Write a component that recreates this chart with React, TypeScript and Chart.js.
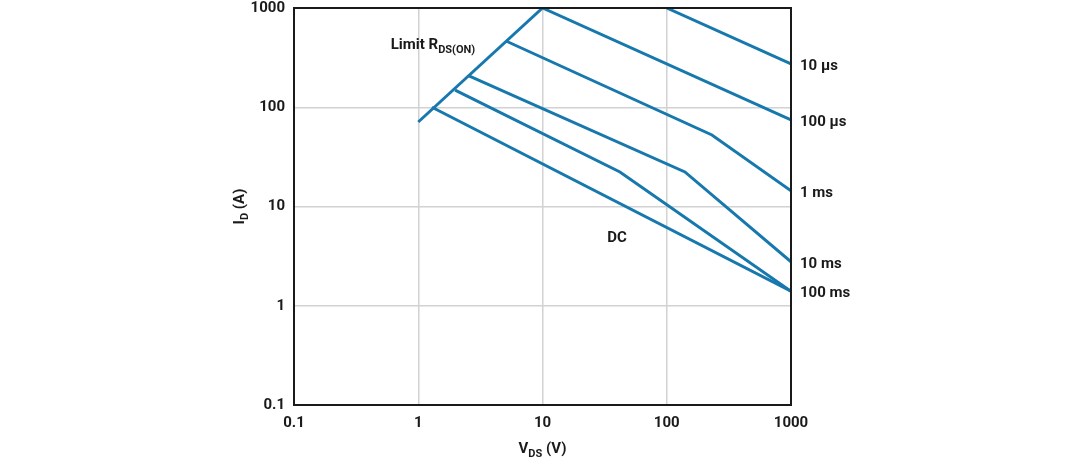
import React, { useEffect, useRef } from "react";
import { Chart, registerables } from "chart.js";
Chart.register(...registerables);

// Axis ticks (decades)
const xTicks = [0.1, 1, 10, 100, 1000];
const yTicks = [0.1, 1, 10, 100, 1000];

// Series (V_DS in V, I_D in A)
const limitV = [1, 10];
const limitI = [71, 1000];
const us10V = [100, 1000];
const us10I = [1000, 273];
const us100V = [10, 1000];
const us100I = [1000, 74.5];
const ms1V = [5.08, 231, 1000];
const ms1I = [465, 52.6, 14.4];
const ms10V = [2.56, 140, 1000];
const ms10I = [207, 22.3, 2.77];
const ms100V = [1.98, 42, 1000];
const ms100I = [149, 22.3, 1.4];
const dcV = [1.29, 1000];
const dcI = [100, 1.4];

// Right-side labels
const rightLabels = ["10 µs", "100 µs", "1 ms", "10 ms", "100 ms"];
const rightLabelI = [273, 74.5, 14.4, 2.77, 1.4];

// In-plot annotations
const limitLabelPos = { v: 0.6, i: 424 };
const dcLabelPos = { v: 39.8, i: 4.8 };

const BLUE = "#1778ae";
const FONT = "Roboto, 'Open Sans', sans-serif";

const zip = (xs: number[], ys: number[]) => xs.map((x, i) => ({ x, y: ys[i] }));

function drawSub(ctx: CanvasRenderingContext2D, x: number, y: number, main: string, sub: string, rest: string, size: number, align: "left" | "center") {
  ctx.save();
  ctx.textBaseline = "middle";
  const subSize = Math.round(size * 0.72);
  ctx.font = `bold ${size}px ${FONT}`;
  const wMain = ctx.measureText(main).width;
  ctx.font = `bold ${subSize}px ${FONT}`;
  const wSub = ctx.measureText(sub).width;
  ctx.font = `bold ${size}px ${FONT}`;
  const wRest = ctx.measureText(rest).width;
  const total = wMain + wSub + wRest;
  let sx = align === "center" ? x - total / 2 : x;
  ctx.textAlign = "left";
  ctx.fillText(main, sx, y);
  ctx.font = `bold ${subSize}px ${FONT}`;
  ctx.fillText(sub, sx + wMain, y + size * 0.35);
  ctx.font = `bold ${size}px ${FONT}`;
  ctx.fillText(rest, sx + wMain + wSub, y);
  ctx.restore();
}

const annotations = {
  id: "annotations",
  afterDraw(chart: any) {
    const { ctx, chartArea, scales } = chart;
    const xs = scales.x;
    const ys = scales.y;
    ctx.save();
    // frame
    ctx.strokeStyle = "#1a1a1a";
    ctx.lineWidth = 2;
    ctx.strokeRect(chartArea.left, chartArea.top, chartArea.right - chartArea.left, chartArea.bottom - chartArea.top);
    ctx.fillStyle = "#1a1a1a";
    // right labels
    ctx.font = `bold 15px ${FONT}`;
    ctx.textAlign = "left";
    ctx.textBaseline = "middle";
    rightLabels.forEach((t, i) => {
      ctx.fillText(t, chartArea.right + 9, ys.getPixelForValue(rightLabelI[i]) + 2);
    });
    // DC label
    ctx.textAlign = "center";
    ctx.fillText("DC", xs.getPixelForValue(dcLabelPos.v), ys.getPixelForValue(dcLabelPos.i));
    // Limit label
    drawSub(ctx, xs.getPixelForValue(limitLabelPos.v), ys.getPixelForValue(limitLabelPos.i), "Limit R", "DS(ON)", "", 15, "left");
    // x title
    const cx = (chartArea.left + chartArea.right) / 2;
    drawSub(ctx, cx, 449, "V", "DS", " (V)", 15, "center");
    // y title
    ctx.save();
    ctx.translate(240, (chartArea.top + chartArea.bottom) / 2);
    ctx.rotate(-Math.PI / 2);
    drawSub(ctx, 0, 0, "I", "D", " (A)", 15, "center");
    ctx.restore();
    ctx.restore();
  },
};

export default function App() {
  const ref = useRef<HTMLCanvasElement | null>(null);
  useEffect(() => {
    if (!ref.current) return;
    const mk = (xs: number[], ys: number[]) => ({
      data: zip(xs, ys),
      borderColor: BLUE,
      borderWidth: 3,
      pointRadius: 0,
      fill: false,
      tension: 0,
    });
    const chart = new Chart(ref.current, {
      type: "line",
      data: {
        datasets: [
          mk(limitV, limitI),
          mk(us10V, us10I),
          mk(us100V, us100I),
          mk(ms1V, ms1I),
          mk(ms10V, ms10I),
          mk(ms100V, ms100I),
          mk(dcV, dcI),
        ],
      },
      options: {
        animation: false,
        responsive: false,
        maintainAspectRatio: false,
        layout: { padding: { left: 234, right: 289, top: 8, bottom: 0 } },
        plugins: { legend: { display: false }, tooltip: { enabled: false } },
        scales: {
          x: {
            type: "logarithmic",
            min: 0.1,
            max: 1000,
            afterBuildTicks: (axis: any) => {
              axis.ticks = xTicks.map((v) => ({ value: v }));
            },
            afterFit: (axis: any) => {
              axis.height = 58;
              axis.paddingLeft = 0;
              axis.paddingRight = 0;
            },
            ticks: {
              autoSkip: false,
              maxRotation: 0,
              padding: 9,
              color: "#1a1a1a",
              font: { family: FONT, size: 15, weight: "bold" },
              callback: (v: any) => String(v),
            },
            grid: { color: "#d2d2d2", lineWidth: 1.5, drawTicks: false },
            border: { display: false },
          },
          y: {
            type: "logarithmic",
            min: 0.1,
            max: 1000,
            afterBuildTicks: (axis: any) => {
              axis.ticks = yTicks.map((v) => ({ value: v }));
            },
            afterFit: (axis: any) => {
              axis.width = 60;
              axis.paddingTop = 0;
              axis.paddingBottom = 0;
            },
            ticks: {
              autoSkip: false,
              padding: 9,
              color: "#1a1a1a",
              font: { family: FONT, size: 15, weight: "bold", lineHeight: 1 },
              callback: (v: any) => String(v),
            },
            grid: { color: "#d2d2d2", lineWidth: 1.5, drawTicks: false },
            border: { display: false },
          },
        },
      },
      plugins: [annotations],
    } as any);
    return () => chart.destroy();
  }, []);
  return (
    <div style={{ position: "fixed", left: 0, top: 0, width: 1080, height: 463, background: "#fff" }}>
      <canvas ref={ref} width={1080} height={463} style={{ display: "block" }} />
    </div>
  );
}
